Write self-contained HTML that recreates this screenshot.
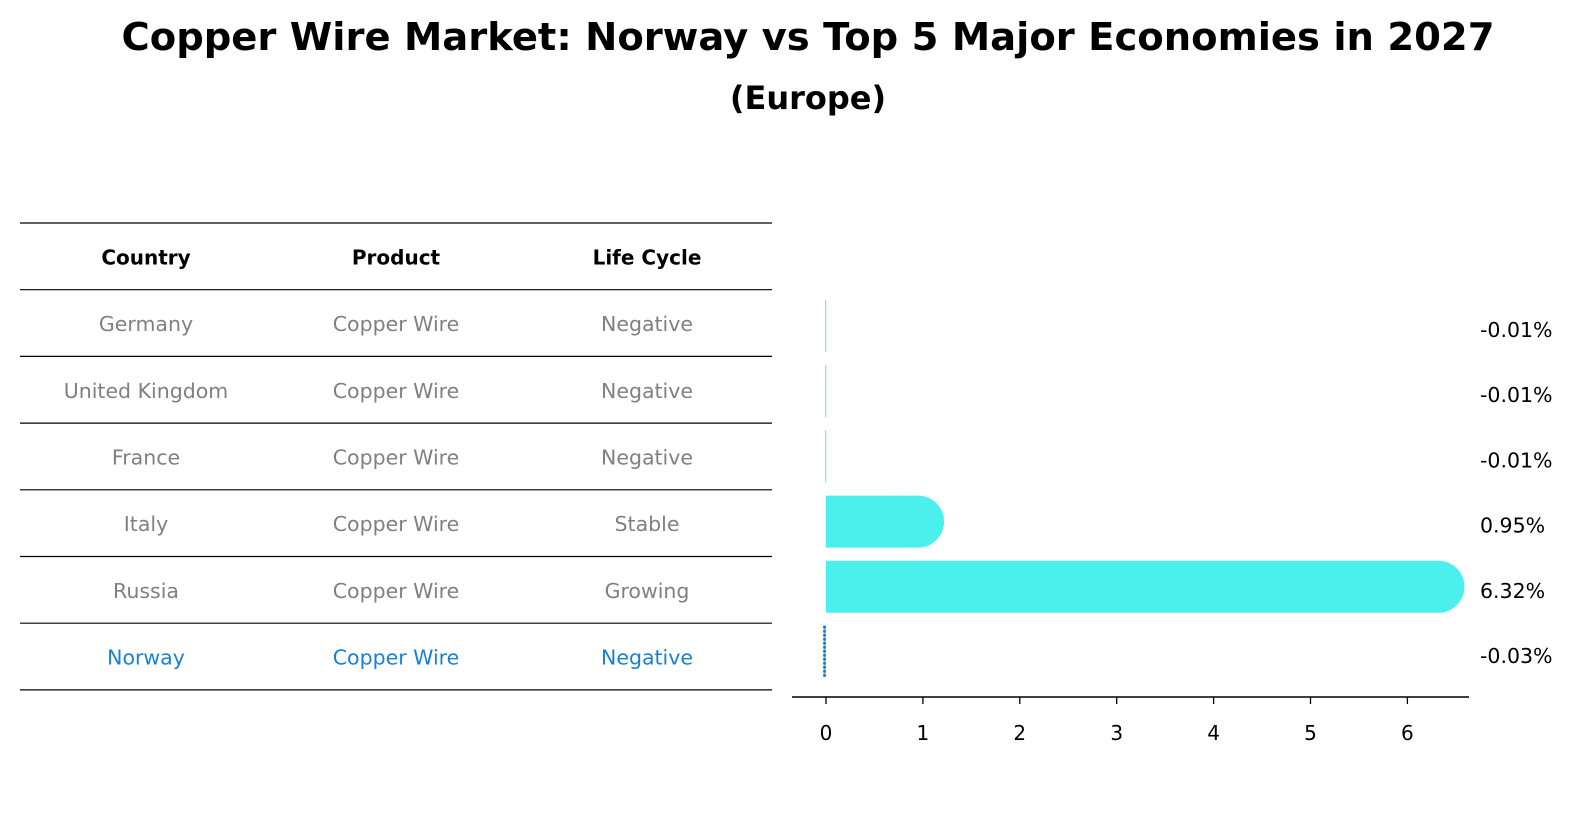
<!DOCTYPE html>
<html><head><meta charset="utf-8"><style>
body{margin:0;background:#fff;width:1596px;height:823px;overflow:hidden;font-family:"DejaVu Sans","Liberation Sans",sans-serif;}
svg text{font-family:"DejaVu Sans","Liberation Sans",sans-serif;}
</style></head><body>
<svg id="chart" width="1596" height="823" xmlns="http://www.w3.org/2000/svg">
<text x="808" y="50" text-anchor="middle" font-size="38.5" font-weight="bold">Copper Wire Market: Norway vs Top 5 Major Economies in 2027</text>
<text x="808" y="109" text-anchor="middle" font-size="32" font-weight="bold">(Europe)</text>
<g id="table"></g>
<g id="bars"></g>
</svg>
<script>
const countries=["Germany","United Kingdom","France","Italy","Russia","Norway"];
const products=["Copper Wire","Copper Wire","Copper Wire","Copper Wire","Copper Wire","Copper Wire"];
const lifeCycles=["Negative","Negative","Negative","Stable","Growing","Negative"];
const values=[-0.01,-0.01,-0.01,0.95,6.32,-0.03];
const valueLabels=["-0.01%","-0.01%","-0.01%","0.95%","6.32%","-0.03%"];
const ticks=[0,1,2,3,4,5,6];
const NS="http://www.w3.org/2000/svg";
function mk(tag,attrs,parent){const e=document.createElementNS(NS,tag);for(const k in attrs)e.setAttribute(k,attrs[k]);parent.appendChild(e);return e;}
const table=document.getElementById('table');
const top0=223,rowH=66.7;
const colX=[146,396,647];
for(let i=0;i<=countries.length+1;i++){const y=top0+rowH*i;
 const l=mk('line',{x1:20,x2:772,y1:y,y2:y,stroke:'#000','stroke-width':1.2},table);
 
 }
["Country","Product","Life Cycle"].forEach((h,j)=>{const t=mk('text',{x:colX[j],y:top0+rowH/2+8,'text-anchor':'middle','font-size':20,'font-weight':'bold'},table);t.textContent=h;
 
 });
countries.forEach((c,i)=>{const cy=top0+rowH*(i+1)+rowH/2;const col=c==="Norway"?'#1a80d6':'#808080';
 [c,products[i],lifeCycles[i]].forEach((v,j)=>{const t=mk('text',{x:colX[j],y:cy+8,'text-anchor':'middle','font-size':20.5,fill:col},table);t.textContent=v;
  
  });});
const bars=document.getElementById('bars');
const x0=826,ppu=96.9;const xs=v=>x0+v*ppu;
const ax=mk('line',{x1:792,x2:1469,y1:697,y2:697,stroke:'#000','stroke-width':1.5},bars);


ticks.forEach(t=>{const x=xs(t);mk('line',{x1:x,x2:x,y1:697,y2:704,stroke:'#000','stroke-width':1.3},bars);
 const tt=mk('text',{x:x,y:740,'text-anchor':'middle','font-size':20},bars);tt.textContent=t;
 
 });
const barH=52,r=26;
values.forEach((v,i)=>{const cy=326+65.2*i;
 if(countries[i]==="Norway"){
  const x=(xs(v)+xs(0))/2;
  const l=mk('line',{x1:x,x2:x,y1:cy-25,y2:cy+25,stroke:'#1a80d6','stroke-width':3,'stroke-dasharray':'0.5,3.5','stroke-linecap':'round'},bars);
  
  
 } else if(v<=0){
  const x=xs(v);
  const l=mk('rect',{x:x,y:cy-barH/2,width:Math.max(1.2,xs(0)-x),height:barH,fill:'#6eeaea'},bars);
  
  
 } else {
  const xe=xs(v);
  const p=mk('path',{d:`M${x0},${cy-r}H${xe}A${r},${r} 0 0 1 ${xe},${cy+r}H${x0}Z`,fill:'#4befec'},bars);
  
  
 }
 const t=mk('text',{x:1480,y:cy+11,'font-size':20.5},bars);t.textContent=valueLabels[i];
 
 
});
</script>
</body></html>
